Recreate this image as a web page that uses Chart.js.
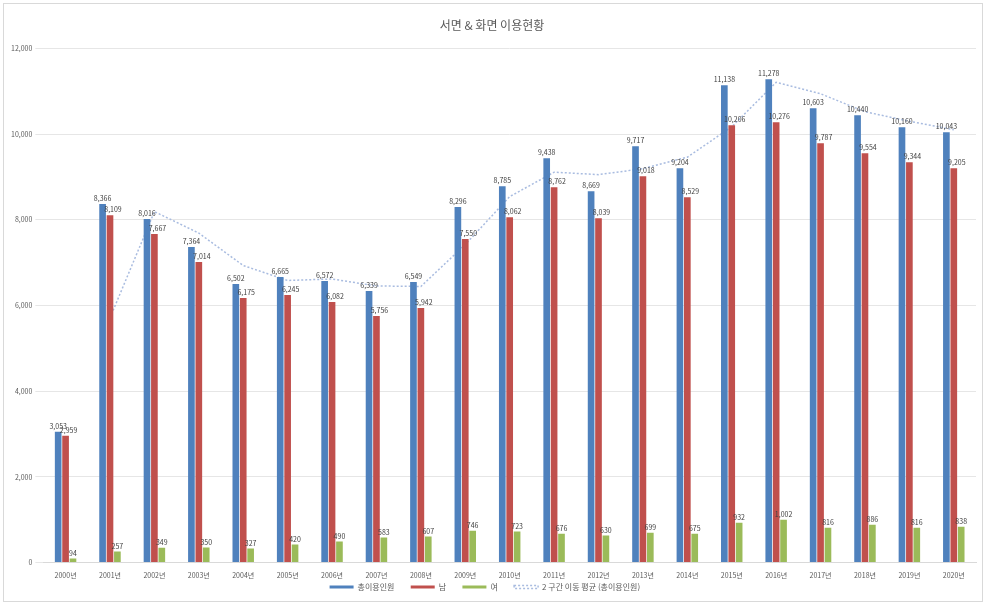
<!DOCTYPE html>
<html lang="ko">
<head>
<meta charset="utf-8">
<script src="https://cdn.jsdelivr.net/npm/chart.js@4"></script>
<style>
  html, body { margin: 0; padding: 0; background: #fff; }
  #wrap { position: absolute; left: 3px; top: 3px; width: 980px; height: 599px; border: 1px solid #d9d9d9; box-sizing: border-box; }
</style>
</head>
<body>
<div id="wrap"><canvas id="chart"></canvas></div>
<script>
// categories and series
const years = ['2000년','2001년','2002년','2003년','2004년','2005년','2006년','2007년','2008년','2009년','2010년',
  '2011년','2012년','2013년','2014년','2015년','2016년','2017년','2018년','2019년','2020년'];
const totalCount = [3053, 8366, 8016, 7364, 6502, 6665, 6572, 6339, 6549, 8296, 8785,
  9438, 8669, 9717, 9204, 11138, 11278, 10603, 10440, 10160, 10043];
const maleCount = [2959, 8109, 7667, 7014, 6175, 6245, 6082, 5756, 5942, 7550, 8062,
  8762, 8039, 9018, 8529, 10206, 10276, 9787, 9554, 9344, 9205];
const femaleCount = [94, 257, 349, 350, 327, 420, 490, 583, 607, 746, 723,
  676, 630, 699, 675, 932, 1002, 816, 886, 816, 838];
// 2-interval moving average trendline as drawn
const trendValues = [null, 5710, 8191, 7690, 6933, 6584, 6619, 6456, 6444, 7423, 8541,
  9112, 9054, 9193, 9461, 10171, 11208, 10941, 10522, 10300, 10102];

const FONT = "'Noto Sans CJK KR', 'Noto Sans', sans-serif";

// value labels above each bar (Excel style)
const barLabels = {
  id: 'barLabels',
  afterDatasetsDraw(chart) {
    const ctx = chart.ctx;
    ctx.save();
    ctx.font = '7px ' + FONT;
    ctx.fillStyle = '#404040';
    ctx.textAlign = 'center';
    ctx.textBaseline = 'bottom';
    chart.data.datasets.forEach((ds, i) => {
      if (ds.type === 'line') return;
      const meta = chart.getDatasetMeta(i);
      meta.data.forEach((bar, j) => {
        const v = ds.data[j];
        ctx.fillText(v.toLocaleString('en-US'), bar.x + (i === 1 ? 3 : 0), bar.y - 2);
      });
    });
    ctx.restore();
  }
};

new Chart(document.getElementById('chart'), {
  type: 'bar',
  data: {
    labels: years,
    datasets: [
      { label: '총이용인원', data: totalCount, backgroundColor: '#4F81BD', categoryPercentage: 0.5, barPercentage: 0.9 },
      { label: '남', data: maleCount, backgroundColor: '#C0504D', categoryPercentage: 0.5, barPercentage: 0.9 },
      { label: '여', data: femaleCount, backgroundColor: '#9BBB59', categoryPercentage: 0.5, barPercentage: 0.9 },
      {
        type: 'line', label: '2 구간 이동 평균 (총이용인원)', data: trendValues,
        borderColor: '#A9BCE0', backgroundColor: 'rgba(0,0,0,0)', borderWidth: 1.5,
        borderDash: [2, 2], pointRadius: 0, tension: 0, spanGaps: true
      }
    ]
  },
  options: {
    responsive: true,
    maintainAspectRatio: false,
    animation: false,
    layout: { padding: { left: 4, right: 6, top: 4, bottom: 0 } },
    plugins: {
      title: {
        display: true, text: '서면 & 화면 이용현황', color: '#595959',
        font: { family: FONT, size: 12, weight: 'normal' }, padding: { top: 10, bottom: 16 }
      },
      legend: {
        position: 'bottom',
        labels: {
          boxWidth: 24, boxHeight: 3, color: '#595959', font: { family: FONT, size: 8 }, padding: 2,
          // extra gap between legend entries without making the legend taller
          generateLabels: chart => Chart.defaults.plugins.legend.labels.generateLabels(chart)
            .map(item => ({ ...item, text: item.text + '        ' }))
        }
      },
      tooltip: { enabled: false }
    },
    scales: {
      x: {
        grid: { display: false },
        border: { color: '#d9d9d9' },
        ticks: { color: '#595959', font: { family: FONT, size: 7 }, maxRotation: 0, padding: 1 }
      },
      y: {
        min: 0, max: 12000,
        grid: { color: '#e6e6e6' },
        border: { display: false },
        ticks: {
          stepSize: 2000, color: '#595959', font: { family: FONT, size: 7 },
          callback: v => v.toLocaleString('en-US')
        }
      }
    }
  },
  plugins: [barLabels]
});
</script>
</body>
</html>
